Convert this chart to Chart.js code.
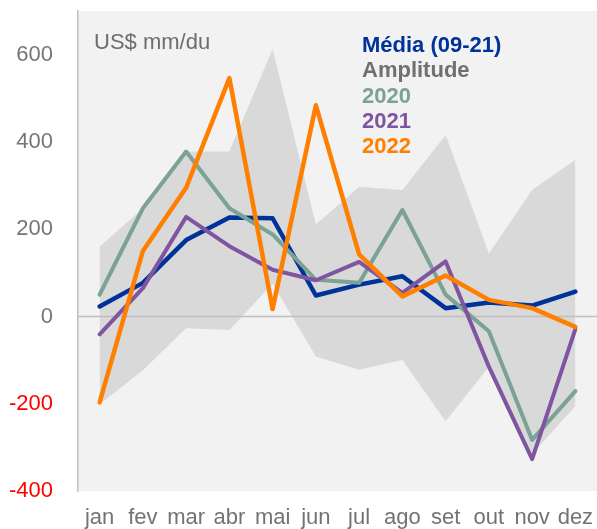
<!DOCTYPE html>
<html><head><meta charset="utf-8">
<script src="https://cdn.jsdelivr.net/npm/chart.js@4/dist/chart.umd.min.js"></script>
<style>html,body{margin:0;padding:0;background:#fff;overflow:hidden}#wrap{width:597px;height:529px;position:relative}</style>
</head><body><div id="wrap"><canvas id="c"></canvas></div>
<script>
const months = ['jan','fev','mar','abr','mai','jun','jul','ago','set','out','nov','dez'];
const media  = [23, 77, 175, 227, 225, 48, 73, 92, 19, 32, 25, 57];
const y2020  = [50, 248, 378, 248, 188, 84, 77, 244, 50, -34, -283, -171];
const y2021  = [-41, 65, 228, 161, 107, 83, 125, 54, 126, -115, -327, -29];
const y2022  = [-197, 150, 295, 546, 17, 484, 142, 46, 94, 38, 19, -24];
const ampMax = [160, 248, 378, 378, 613, 211, 297, 290, 416, 144, 290, 359];
const ampMin = [-201, -123, -27, -31, 75, -92, -122, -100, -240, -115, -315, -205];
const yTicks = [-400, -200, 0, 200, 400, 600];
const unitLabel = 'US$ mm/du';

const FONT = '"Liberation Sans", Arial, sans-serif';
const C = {media:'#003399', amp:'#d9d9d9', ampText:'#707070', y20:'#7aa396', y21:'#8055a0', y22:'#ff7f00'};

function line(label, data, color, w){
  return {label, data, borderColor: color, backgroundColor: color, borderWidth: w,
    pointRadius: 0, tension: 0, fill: false, borderJoinStyle: 'round', borderCapStyle: 'round'};
}

const bgPlugin = {
  id: 'bg',
  beforeDraw(chart){
    const {ctx, chartArea: a} = chart;
    ctx.save(); ctx.fillStyle = '#f2f2f2';
    ctx.fillRect(a.left, a.top, a.right - a.left, a.bottom - a.top);
    ctx.restore();
  },
  afterDatasetDraw(chart, args){
    if (args.index !== 4) return;
    const {ctx, chartArea: a} = chart;
    const y = Math.round(chart.scales.y.getPixelForValue(0)) + 0.5;
    ctx.save(); ctx.strokeStyle = '#bfbfbf'; ctx.lineWidth = 1.5;
    ctx.beginPath(); ctx.moveTo(a.left, y); ctx.lineTo(a.right, y); ctx.stroke();
    ctx.restore();
  },
  afterDraw(chart){
    const {ctx, chartArea: a} = chart;
    ctx.save();
    ctx.textBaseline = 'alphabetic'; ctx.textAlign = 'left';
    ctx.font = '22px ' + FONT; ctx.fillStyle = '#6d6d6d';
    ctx.fillText(unitLabel, a.left + 16, 49);
    ctx.font = 'bold 22px ' + FONT;
    const items = [
      ['Média (09-21)', C.media], ['Amplitude', C.ampText],
      ['2020', C.y20], ['2021', C.y21], ['2022', C.y22]
    ];
    items.forEach((it, i) => {
      ctx.fillStyle = it[1];
      ctx.fillText(it[0], a.left + 284, 52 + i * 25.3);
    });
    ctx.restore();
  }
};

new Chart(document.getElementById('c'), {
  type: 'line',
  data: {
    labels: months,
    datasets: [
      line('2022', y2022, C.y22, 4.5),
      line('2021', y2021, C.y21, 4),
      line('2020', y2020, C.y20, 4),
      line('Média (09-21)', media, C.media, 4.5),
      {label: 'Amplitude', data: ampMax, borderWidth: 0, pointRadius: 0, tension: 0,
        backgroundColor: C.amp, borderColor: C.amp, fill: '+1'},
      {label: 'Amplitude min', data: ampMin, borderWidth: 0, pointRadius: 0, tension: 0,
        backgroundColor: C.amp, borderColor: C.amp, fill: false}
    ]
  },
  options: {
    responsive: true, maintainAspectRatio: false, animation: false, devicePixelRatio: 1,
    layout: {padding: {top: 11, right: 0, left: 0, bottom: 0}},
    plugins: {legend: {display: false}, tooltip: {enabled: false}},
    scales: {
      x: {
        offset: true,
        grid: {display: false, drawTicks: false},
        border: {display: false},
        ticks: {color: '#737373', font: {family: FONT, size: 22}, padding: 14, maxRotation: 0, autoSkip: false},
        afterFit: s => { s.height = 38; s.paddingLeft = 0; s.paddingRight = 0; }
      },
      y: {
        min: -400, max: 700,
        afterBuildTicks: s => { s.ticks = yTicks.map(v => ({value: v})); },
        ticks: {stepSize: 200, includeBounds: false, padding: 25,
          color: c => (c.tick && c.tick.value < 0) ? '#ff0000' : '#767676',
          font: {family: FONT, size: 22}},
        grid: {display: false, drawTicks: false},
        border: {display: true, color: '#bfbfbf', width: 1.5},
        afterFit: s => { s.width = 78; s.paddingTop = 0; s.paddingBottom = 0; }
      }
    }
  },
  plugins: [bgPlugin]
});
</script>
</body></html>
